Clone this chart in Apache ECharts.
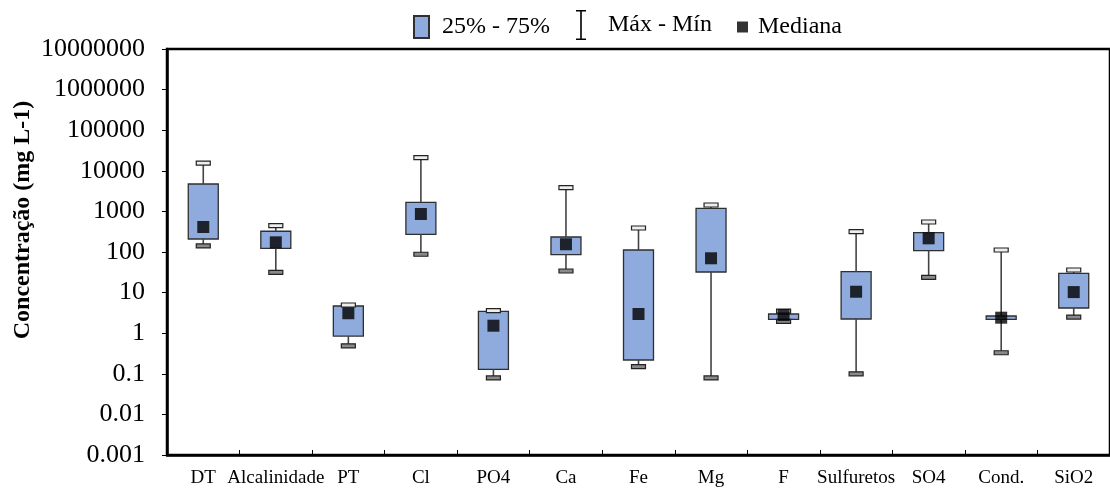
<!DOCTYPE html>
<html>
<head>
<meta charset="utf-8">
<script src="https://cdn.jsdelivr.net/npm/echarts@6/dist/echarts.min.js"></script>
<style>
html,body{margin:0;padding:0;background:#fff;}
#chart{width:1110px;height:488px;}
</style>
</head>
<body>
<div id="chart"></div>
<script>
var categories = ['DT','Alcalinidade','PT','Cl','PO4','Ca','Fe','Mg','F','Sulfuretos','SO4','Cond.','SiO2'];
var minValues    = [141, 31.6, 0.49, 88, 0.079, 34, 0.15, 0.079, 1.96, 0.1, 23.8, 0.33, 2.5];
var q1Values     = [209, 123, 0.85, 273, 0.129, 86, 0.219, 32.2, 2.2, 2.24, 108, 2.2, 4.18];
var medianValues = [413, 173, 3.1, 863, 1.53, 155, 2.97, 70, 2.8, 10.5, 217, 2.41, 10.3];
var q3Values     = [4730, 324, 4.68, 1675, 3.46, 234, 112, 1192, 2.97, 32.7, 299, 2.65, 29.9];
var maxValues    = [15500, 445, 4.95, 21000, 3.58, 3840, 390, 1438, 3.5, 316, 548, 112, 36];
var yTickLabels  = ['0.001','0.01','0.1','1','10','100','1000','10000','100000','1000000','10000000'];
var legendNames  = ['25% - 75%','Máx - Mín','Mediana'];
var yAxisTitle   = 'Concentração (mg L-1)';

var boxData = categories.map(function(c,i){ return [i, q1Values[i], q3Values[i]]; });
var whiskerData = categories.map(function(c,i){ return [i, minValues[i], q1Values[i], q3Values[i], maxValues[i]]; });
var medianData = categories.map(function(c,i){ return [i, medianValues[i]]; });

var chart = echarts.init(document.getElementById('chart'), null, {renderer:'canvas'});
var serif = 'Liberation Serif';
var option = {
  animation: false,
  backgroundColor: '#fff',
  grid: {left:167, top:49, width:949, height:406, show:true, borderColor:'#000', borderWidth:2.5, containLabel:false},
  legend: [
    {data:[{name:legendNames[0], icon:'rect'}], left:413, top:15, padding:0, itemWidth:15, itemHeight:22,
     textStyle:{fontFamily:serif, fontSize:24, color:'#000', padding:[0,0,0,8]}, selectedMode:false},
    {data:[{name:legendNames[1], icon:'path://M0,0H10V1.5H5.8V28.5H10V30H0V28.5H4.2V1.5H0Z', itemStyle:{color:'#000', borderWidth:0}}], left:576, top:10, padding:0, itemWidth:10, itemHeight:30,
     textStyle:{fontFamily:serif, fontSize:24, color:'#000', padding:[0,0,0,17]}, selectedMode:false},
    {data:[{name:legendNames[2], icon:'rect'}], left:737, top:15, padding:0, itemWidth:11, itemHeight:11,
     textStyle:{fontFamily:serif, fontSize:24, color:'#000', padding:[0,0,0,5]}, selectedMode:false}
  ],
  xAxis: {
    type:'category', data:categories, boundaryGap:true,
    axisLine:{show:true, lineStyle:{color:'#000', width:2.5}},
    axisTick:{show:true, inside:true, length:5, lineStyle:{color:'#000', width:1}},
    axisLabel:{interval:0, margin:14, fontFamily:serif, fontSize:19, color:'#000'},
    splitLine:{show:false}
  },
  yAxis: {
    type:'log', logBase:10, min:0.001, max:10000000, interval:1,
    axisLine:{show:true, lineStyle:{color:'#000', width:2.5}},
    axisTick:{show:true, inside:false, length:5, lineStyle:{color:'#000', width:1}},
    axisLabel:{margin:22, fontFamily:serif, fontSize:26, color:'#000',
      formatter:function(v){ var e = Math.round(Math.log10(v)); return yTickLabels[e+3]; }},
    splitLine:{show:false}
  },
  graphic: [{
    type:'text', x:23, y:220, rotation:Math.PI/2,
    style:{text:yAxisTitle, fontFamily:serif, fontWeight:'bold', fontSize:24, fill:'#000', textAlign:'center', textVerticalAlign:'middle'}
  }],
  series: [
    {
      name: legendNames[0], type:'custom', z:2,
      itemStyle:{color:'#8FAADC', borderColor:'#2f2f2f', borderWidth:1},
      encode:{x:0, y:[1,2]},
      data: boxData,
      renderItem: function(params, api){
        var i = api.value(0);
        var p1 = api.coord([i, api.value(1)]);
        var p3 = api.coord([i, api.value(2)]);
        var bw = 30;
        return {type:'rect', shape:{x:p1[0]-bw/2, y:p3[1], width:bw, height:p1[1]-p3[1]},
          style:{fill:'#8FAADC', stroke:'#2f2f2f', lineWidth:1.3}};
      }
    },
    {
      name: legendNames[1], type:'custom', z:3,
      itemStyle:{color:'#000'},
      encode:{x:0, y:[1,2,3,4]},
      data: whiskerData,
      renderItem: function(params, api){
        var i = api.value(0);
        var pMin = api.coord([i, api.value(1)]);
        var pQ1 = api.coord([i, api.value(2)]);
        var pQ3 = api.coord([i, api.value(3)]);
        var pMax = api.coord([i, api.value(4)]);
        var cw = 14, ch = 4, x = pMin[0];
        return {type:'group', children:[
          {type:'line', shape:{x1:x, y1:pMax[1], x2:x, y2:pQ3[1]}, style:{stroke:'#444', lineWidth:1.6}},
          {type:'line', shape:{x1:x, y1:pQ1[1], x2:x, y2:pMin[1]}, style:{stroke:'#444', lineWidth:1.6}},
          {type:'rect', shape:{x:x-cw/2, y:pMax[1]-ch/2, width:cw, height:ch}, style:{fill:'#eeeeee', stroke:'#222', lineWidth:1.2}},
          {type:'rect', shape:{x:x-cw/2, y:pMin[1]-ch/2, width:cw, height:ch}, style:{fill:'#8a8a8a', stroke:'#222', lineWidth:1.2}}
        ]};
      }
    },
    {
      name: legendNames[2], type:'scatter', z:4,
      symbol:'rect', symbolSize:12,
      itemStyle:{color:'#000'},
      data: medianData
    }
  ]
};
chart.setOption(option);
</script>
</body>
</html>
